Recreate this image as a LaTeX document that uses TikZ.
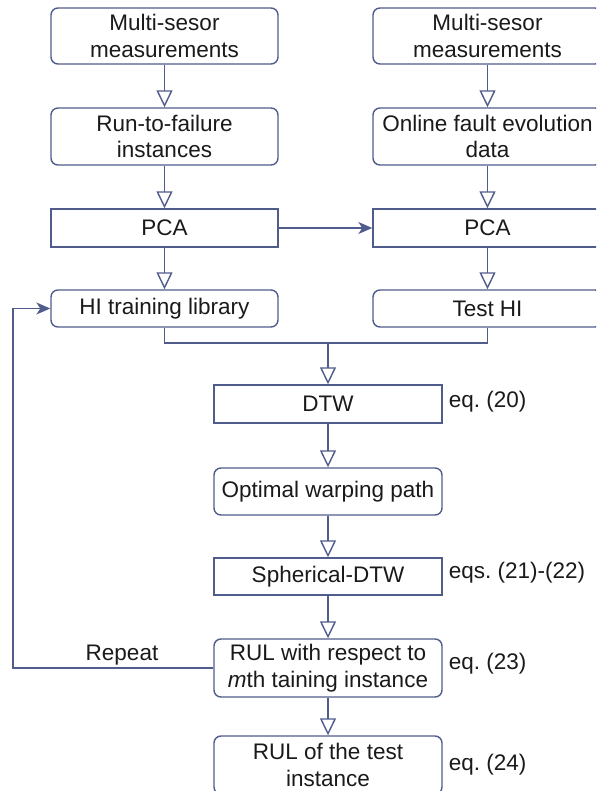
\documentclass[tikz,border=0pt]{standalone}
\usepackage{fontspec}
\setmainfont{Liberation Sans}
\usetikzlibrary{arrows.meta}
\definecolor{lc}{HTML}{505C8C}
\definecolor{tc}{HTML}{1A1A1A}
\tikzset{
  box/.style={draw=lc, line width=1.4pt, fill=white, align=center, inner sep=2pt,
    font=\fontsize{22.5}{26.5}\selectfont, text=tc},
  rbox/.style={box, rounded corners=7pt},
  flow/.style={draw=lc, line width=1.4pt, -{Triangle[open, length=17pt, width=16pt, line width=1.4pt]}},
  plain/.style={draw=lc, line width=1.4pt},
  fillflow/.style={draw=lc, line width=1.4pt, -{Stealth[length=14pt, width=12pt, inset=4pt]}, color=lc},
  lbl/.style={font=\fontsize{22.5}{26.5}\selectfont, text=tc, inner sep=0pt},
}
\frenchspacing
\begin{document}
\begin{tikzpicture}[x=1pt, y=-1pt]
\useasboundingbox (0,0) rectangle (596,791);
\clip (0,0) rectangle (596,791);
\fill[white] (0,0) rectangle (596,791);
% left column
\node[rbox, minimum width=227pt, minimum height=56pt] (l1) at (164.5,36) {Multi-sesor\\measurements};
\node[rbox, minimum width=227pt, minimum height=57pt] (l2) at (164.5,136.5) {Run-to-failure\\instances};
\node[box, minimum width=227pt, minimum height=38pt] (lp) at (164.5,228) {PCA};
\node[rbox, minimum width=227pt, minimum height=37pt] (hi) at (164.5,308.5) {HI training library};
% right column
\node[rbox, minimum width=229pt, minimum height=56pt] (r1) at (487.5,36) {Multi-sesor\\measurements};
\node[rbox, minimum width=229pt, minimum height=57pt] (r2) at (487.5,136.5) {Online fault evolution\\data};
\node[box, minimum width=229pt, minimum height=38pt] (rp) at (487.5,228) {PCA};
\node[rbox, minimum width=229pt, minimum height=37pt] (thi) at (487.5,308.5) {Test HI};
% middle column
\node[box, minimum width=228pt, minimum height=38pt] (dtw) at (328,404) {DTW};
\node[rbox, minimum width=228pt, minimum height=47pt] (owp) at (328,491.5) {Optimal warping path};
\node[box, minimum width=228pt, minimum height=37pt] (sdtw) at (328,576.5) {Spherical-DTW};
\node[rbox, minimum width=228pt, minimum height=58pt] (rul) at (328,668) {RUL with respect to\\\textit{m}th taining instance};
\node[rbox, minimum width=228pt, minimum height=58pt] (rult) at (328,765) {RUL of the test\\instance};
% equation labels
\node[lbl, anchor=west] (e20) at ([xshift=6pt, yshift=2pt]dtw.east) {eq. (20)};
\node[lbl, anchor=west] (e21) at ([xshift=6pt, yshift=4pt]sdtw.east) {eqs. (21)-(22)};
\node[lbl, anchor=west] (e23) at ([xshift=6pt, yshift=4pt]rul.east) {eq. (23)};
\node[lbl, anchor=west] (e24) at ([xshift=6pt, yshift=0pt]rult.east) {eq. (24)};
\node[lbl] (rep) at (122,655) {Repeat};
% connectors
\draw[flow] (l1) -- (l2);
\draw[flow] (l2) -- (lp);
\draw[flow] (lp) -- (hi);
\draw[flow] (r1) -- (r2);
\draw[flow] (r2) -- (rp);
\draw[flow] (rp) -- (thi);
\draw[fillflow] (lp) -- (rp);
\coordinate (jn) at (328,343);
\draw[plain] (hi.south) |- (jn);
\draw[plain] (thi.south) |- (jn);
\draw[flow] (jn) -- (dtw.north);
\draw[flow] (dtw) -- (owp);
\draw[flow] (owp) -- (sdtw);
\draw[flow] (sdtw) -- (rul);
\draw[flow] (rul) -- (rult);
\coordinate (rpt) at (13,668);
\draw[fillflow] (rul.west) -- (rpt) |- (hi.west);
\end{tikzpicture}
\end{document}
